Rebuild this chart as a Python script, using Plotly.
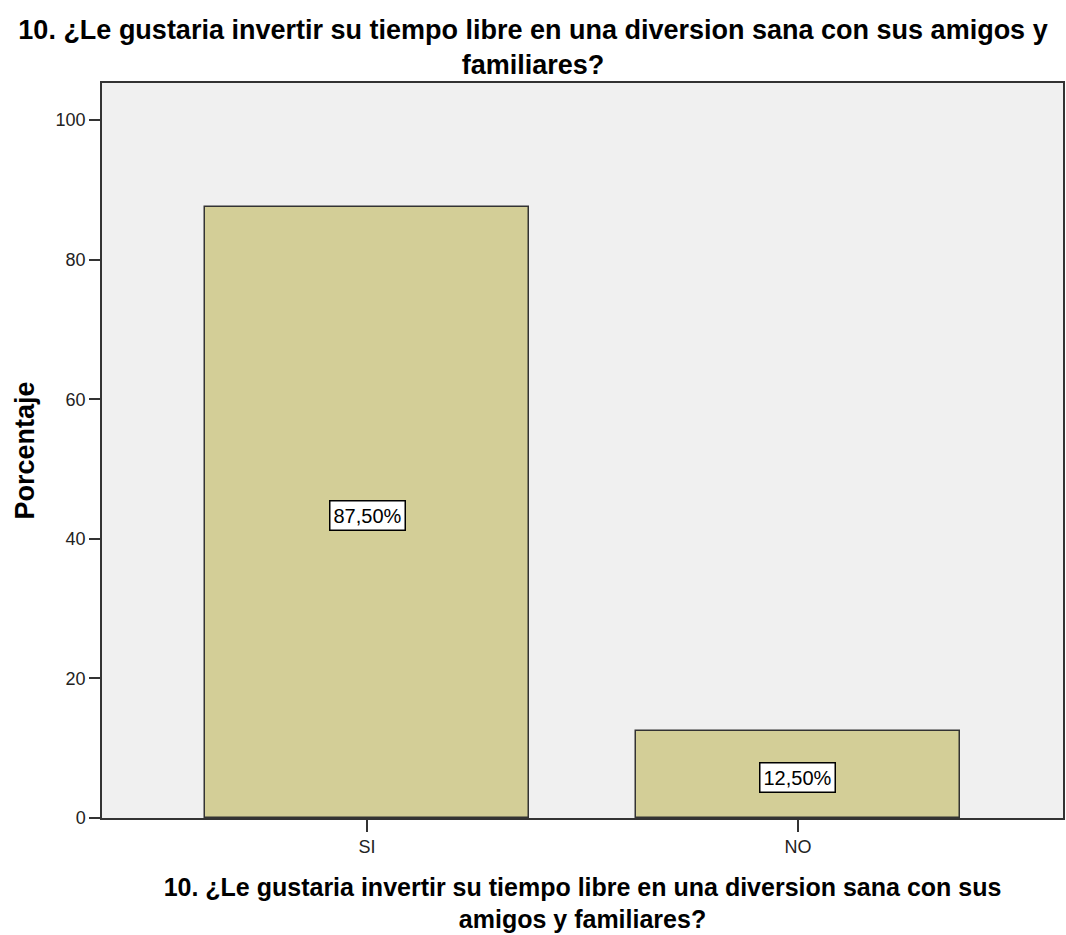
import plotly.graph_objects as go

categorias = ['SI', 'NO']
porcentajes = [87.5, 12.5]
etiquetas = ['87,50%', '12,50%']
y_ticks = [0, 20, 40, 60, 80, 100]

titulo = '10. ¿Le gustaria invertir su tiempo libre en una diversion sana con sus amigos y<br>familiares?'
titulo_x = '10. ¿Le gustaria invertir su tiempo libre en una diversion sana con sus<br>amigos y familiares?'

fuente = 'Liberation Sans, Arial, sans-serif'
fuente_estrecha = 'Liberation Sans Narrow, Arial Narrow, Liberation Sans, sans-serif'

fig = go.Figure()
fig.add_trace(go.Bar(
    x=categorias,
    y=porcentajes,
    width=0.75,
    marker=dict(color='#D3CE97', line=dict(color='#333333', width=1.5)),
    hoverinfo='skip',
    showlegend=False
))

#etiquetas con recuadro
for cat, val, txt in zip(categorias, porcentajes, etiquetas):
    fig.add_annotation(
        x=cat, y=val / 2, text=txt, showarrow=False, yshift=-3,
        font=dict(family=fuente_estrecha, size=20, color='black'),
        bgcolor='white', bordercolor='black', borderwidth=1.5, borderpad=3
    )

fig.update_layout(
    title=dict(
        text=titulo, x=0.5, xanchor='center', xref='container',
        y=0.958, yanchor='top',
        font=dict(family=fuente, size=27, color='black', weight='bold')
    ),
    plot_bgcolor='#F0F0F0',
    paper_bgcolor='white',
    width=1066, height=935,
    margin=dict(l=102, r=1, t=83, b=117),
    bargap=0,
    xaxis=dict(
        range=[-0.615, 1.615],
        showline=True, mirror=True, linecolor='#333333', linewidth=1.5,
        ticks='outside', ticklen=12, tickcolor='#333333', tickwidth=1.5,
        tickfont=dict(family=fuente_estrecha, size=18, color='#222222'),
        showgrid=False, zeroline=False,
        title=dict(
            text=titulo_x, standoff=22,
            font=dict(family=fuente, size=25, color='black', weight='bold')
        )
    ),
    yaxis=dict(
        range=[0, 105.3],
        tickvals=y_ticks,
        showline=True, mirror=True, linecolor='#333333', linewidth=1.5,
        ticks='outside', ticklen=11, tickcolor='#333333', tickwidth=1.5,
        tickfont=dict(family=fuente_estrecha, size=18, color='#222222'),
        showgrid=False, zeroline=False,
        title=dict(
            text='Porcentaje', standoff=13,
            font=dict(family=fuente, size=27, color='black', weight='bold')
        )
    )
)

fig.write_html(
    'out.html',
    config={'displayModeBar': False},
    post_script="document.body.style.margin='0';"
)
